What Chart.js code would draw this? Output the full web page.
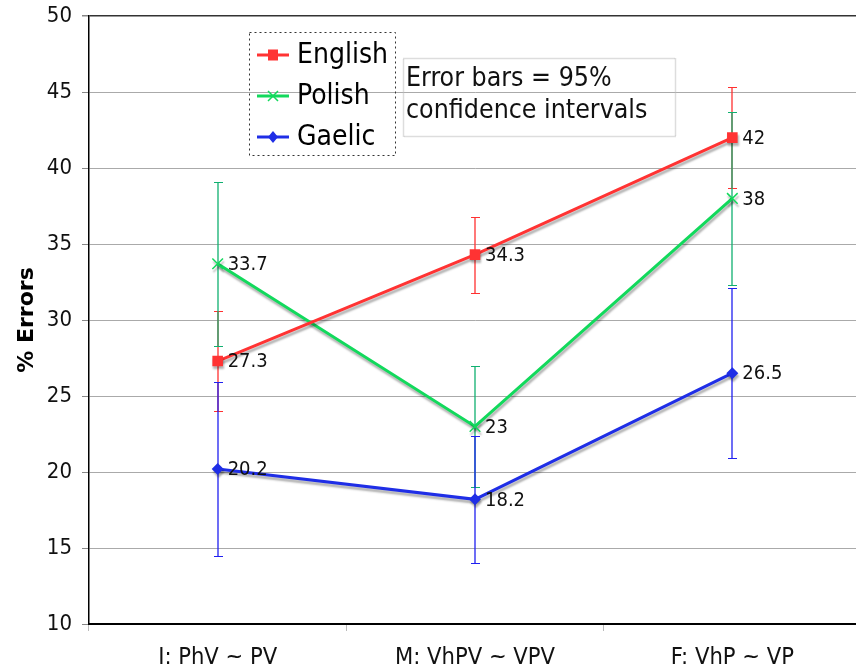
<!DOCTYPE html>
<html>
<head>
<meta charset="utf-8">
<script src="https://cdn.jsdelivr.net/npm/chart.js@4/dist/chart.umd.min.js"></script>
<style>
    html, body { margin: 0; padding: 0; background: #fff; }
    #wrap { width: 856px; height: 671px; overflow: hidden; position: relative; }
    canvas { display: block; }
</style>
</head>
<body>
<div id="wrap"><canvas id="chart" width="870" height="671" style="width:870px;height:671px"></canvas></div>
<script>
const categories = ['I: PhV ~ PV', 'M: VhPV ~ VPV', 'F: VhP ~ VP'];

const english = [27.3, 34.3, 42];
const englishLow = [24.0, 31.8, 38.7];
const englishHigh = [30.6, 36.8, 45.3];

const polish = [33.7, 23, 38];
const polishLow = [28.3, 19.0, 32.3];
const polishHigh = [39.1, 27.0, 43.7];

const gaelic = [20.2, 18.2, 26.5];
const gaelicLow = [14.5, 14.0, 20.9];
const gaelicHigh = [25.9, 22.4, 32.1];

const yMin = 10, yMax = 50, yStep = 5;

const noteLines = ['Error bars = 95%', 'confidence intervals'];

// condensed face if the machine has it, else plain DejaVu a bit smaller
function hasFont(name) {
    const c = document.createElement('canvas').getContext('2d');
    c.font = '40px monospace';
    const w1 = c.measureText('abcdefgWMil123').width;
    c.font = `40px '${name}', monospace`;
    return c.measureText('abcdefgWMil123').width !== w1;
}
const condensed = hasFont('DejaVu Sans Condensed');
const FAMILY = condensed ? "'DejaVu Sans Condensed', 'DejaVu Sans', sans-serif" : "'DejaVu Sans', sans-serif";
const sz = s => condensed ? s : Math.round(s * 0.9);

const errorBars = [
    { low: englishLow, high: englishHigh, color: '#ff3030' },
    { low: polishLow, high: polishHigh, color: '#10b070' },
    { low: gaelicLow, high: gaelicHigh, color: '#2020f0' }
];

const errorBarPlugin = {
    id: 'errorBars',
    beforeDatasetsDraw(chart) {
        const ctx = chart.ctx;
        const y = chart.scales.y;
        errorBars.forEach((eb, di) => {
            const meta = chart.getDatasetMeta(di);
            ctx.save();
            ctx.strokeStyle = eb.color;
            meta.data.forEach((pt, i) => {
                const x = Math.round(pt.x);
                const yl = Math.round(y.getPixelForValue(eb.low[i])) + 0.5;
                const yh = Math.round(y.getPixelForValue(eb.high[i])) + 0.5;
                ctx.lineWidth = 1.3;
                ctx.beginPath();
                ctx.moveTo(x, yl); ctx.lineTo(x, yh);
                ctx.stroke();
                ctx.lineWidth = 1;
                ctx.beginPath();
                ctx.moveTo(x - 4, yl); ctx.lineTo(x + 5, yl);
                ctx.moveTo(x - 4, yh); ctx.lineTo(x + 5, yh);
                ctx.stroke();
            });
            ctx.restore();
        });
    }
};

// grey drop shadow under each series
const shadowPlugin = {
    id: 'shadow',
    beforeDatasetDraw(chart) {
        const ctx = chart.ctx;
        ctx.save();
        ctx.shadowColor = 'rgba(0,0,0,0.3)';
        ctx.shadowBlur = 2;
        ctx.shadowOffsetX = 1;
        ctx.shadowOffsetY = 3;
    },
    afterDatasetDraw(chart) {
        chart.ctx.restore();
    }
};

const labelPlugin = {
    id: 'valueLabels',
    afterDatasetsDraw(chart) {
        const ctx = chart.ctx;
        ctx.save();
        ctx.font = sz(20) + 'px ' + FAMILY;
        ctx.fillStyle = '#111';
        ctx.textAlign = 'left';
        ctx.textBaseline = 'middle';
        chart.data.datasets.forEach((ds, di) => {
            chart.getDatasetMeta(di).data.forEach((pt, i) => {
                ctx.fillText(String(ds.data[i]), pt.x + 10, pt.y + 1);
            });
        });
        ctx.restore();
    }
};

const legendPlugin = {
    id: 'boxLegend',
    afterDraw(chart) {
        const ctx = chart.ctx;
        ctx.save();
        ctx.strokeStyle = '#333';
        ctx.lineWidth = 1;
        ctx.setLineDash([2, 3]);
        ctx.strokeRect(249.5, 32.5, 146, 123);
        ctx.setLineDash([]);
        const rows = [55, 96, 137];
        chart.data.datasets.forEach((ds, i) => {
            const yy = rows[i];
            ctx.strokeStyle = ds.borderColor;
            ctx.lineWidth = 3;
            ctx.beginPath();
            ctx.moveTo(257, yy); ctx.lineTo(289, yy);
            ctx.stroke();
            ctx.fillStyle = ds.borderColor;
            ctx.lineWidth = 1.5;
            const cx = 273;
            if (ds.pointStyle === 'rect') {
                ctx.fillRect(cx - 5, yy - 5.5, 10, 11);
            } else if (ds.pointStyle === 'rectRot') {
                ctx.beginPath();
                ctx.moveTo(cx, yy - 6); ctx.lineTo(cx + 5, yy);
                ctx.lineTo(cx, yy + 6); ctx.lineTo(cx - 5, yy);
                ctx.closePath(); ctx.fill();
            } else {
                ctx.beginPath();
                ctx.moveTo(cx - 5, yy - 5); ctx.lineTo(cx + 5, yy + 5);
                ctx.moveTo(cx + 5, yy - 5); ctx.lineTo(cx - 5, yy + 5);
                ctx.stroke();
            }
            ctx.fillStyle = '#000';
            ctx.font = sz(28) + 'px ' + FAMILY;
            ctx.textBaseline = 'middle';
            ctx.fillText(ds.label, 297, yy + 1);
        });

        // note box
        ctx.strokeStyle = '#bbb';
        ctx.setLineDash([1, 1]);
        ctx.strokeRect(403.5, 58.5, 272, 78);
        ctx.setLineDash([]);
        ctx.fillStyle = '#111';
        ctx.font = sz(26.5) + 'px ' + FAMILY;
        ctx.fillText(noteLines[0], 406, 79);
        ctx.fillText(noteLines[1], 406, 111);
        ctx.restore();
    }
};

new Chart(document.getElementById('chart'), {
    type: 'line',
    data: {
        labels: categories,
        datasets: [
            {
                label: 'English', data: english,
                borderColor: '#ff3333', backgroundColor: '#ff3333',
                borderWidth: 3, pointStyle: 'rect', pointRadius: 7.5,
                pointBorderWidth: 0
            },
            {
                label: 'Polish', data: polish,
                borderColor: '#12d95c', backgroundColor: '#12d95c',
                borderWidth: 3, pointStyle: 'crossRot', pointRadius: 7.5,
                pointBorderWidth: 1.5
            },
            {
                label: 'Gaelic', data: gaelic,
                borderColor: '#1f2ee6', backgroundColor: '#1f2ee6',
                borderWidth: 3, pointStyle: 'rectRot', pointRadius: 6,
                pointBorderWidth: 0
            }
        ]
    },
    options: {
        responsive: false,
        animation: false,
        devicePixelRatio: 1,
        layout: { padding: { top: 16, right: 5, left: 0, bottom: 0 } },
        plugins: {
            legend: { display: false },
            tooltip: { enabled: false }
        },
        scales: {
            x: {
                offset: true,
                grid: {
                    offset: true, drawOnChartArea: false, drawTicks: true,
                    tickLength: 7, color: '#bbb'
                },
                border: { display: true, color: '#000', width: 2 },
                ticks: { font: { family: FAMILY, size: sz(23.5) }, color: '#111', padding: 13 },
                afterFit(scale) {
                    scale.height = 47;
                    scale.paddingLeft = 0;
                    scale.paddingRight = 0;
                }
            },
            y: {
                min: yMin, max: yMax,
                ticks: {
                    stepSize: yStep, font: { family: FAMILY, size: sz(22) },
                    color: '#111', padding: 10
                },
                grid: {
                    color: ctx => ctx.tick && ctx.tick.value === yMax ? '#333' : '#aaa',
                    lineWidth: ctx => ctx.tick && ctx.tick.value === yMax ? 1.5 : 1,
                    tickLength: 7, tickColor: '#888'
                },
                border: { display: true, color: '#000', width: 1.5 },
                title: {
                    display: true, text: '% Errors',
                    font: { family: "'DejaVu Sans', sans-serif", size: 22, weight: 'bold' },
                    color: '#000', padding: { top: 14, bottom: 0 }
                },
                afterFit(scale) {
                    scale.width = 89;
                    scale.paddingTop = 0;
                    scale.paddingBottom = 0;
                }
            }
        }
    },
    plugins: [errorBarPlugin, shadowPlugin, labelPlugin, legendPlugin]
});
</script>
</body>
</html>
